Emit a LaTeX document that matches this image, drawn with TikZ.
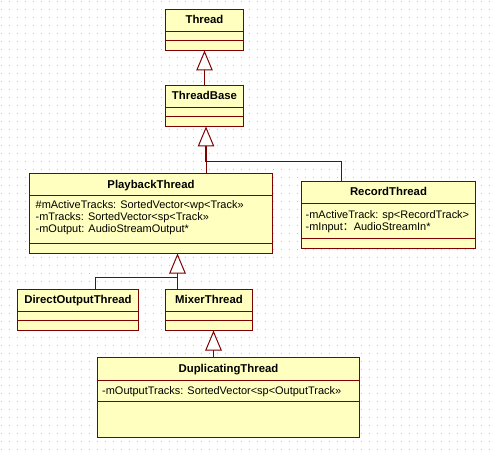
\documentclass[tikz,border=0pt]{standalone}
\usepackage{fontspec}
\setmainfont{Liberation Sans}
\newfontfamily\cjkfont{Noto Sans CJK SC}
\usetikzlibrary{arrows.meta}

\definecolor{umlred}{HTML}{800000}
\definecolor{umlfill}{HTML}{FFFFC0}
\definecolor{griddot}{HTML}{C4C4C4}

% horizontal rule between two compartments of a class box
\newcommand\umlsep[2]{\draw[cline] (#1.west |- 0,#2) -- (#1.east |- 0,#2);}

\begin{document}
\begin{tikzpicture}[
  x=1bp, y=-1bp,
  cls/.style={rectangle, draw=umlred, fill=umlfill, line width=1bp,
              inner sep=0pt, outer sep=0pt},
  cline/.style={draw=umlred, line width=1bp},
  title/.style={inner sep=0pt, anchor=base,
                font=\fontsize{11.4}{12}\selectfont\bfseries},
  attr/.style={inner sep=0pt, anchor=base west,
               font=\fontsize{11}{12}\selectfont},
  assoc/.style={draw=umlred, line width=1bp},
  gen/.style={assoc, -{Triangle[open, length=20bp, width=16.5bp, fill=white]}},
]
\useasboundingbox (0,0) rectangle (493,457);
\fill[white] (0,0) rectangle (493,457);

% dotted background grid
\foreach \k in {0,...,56}
  \draw[griddot, line width=1bp, dash pattern=on 1bp off 7bp]
    (1,1.5+8*\k) -- (493,1.5+8*\k);

% ---- class boxes ----
\node[cls, minimum width=78bp, minimum height=41bp] (Thread) at (204.5,30) {};
\umlsep{Thread}{31.5}\umlsep{Thread}{40.5}
\node[title] (tThread) at (Thread.center |- 0,24) {Thread};

\node[cls, minimum width=78bp, minimum height=41bp] (ThreadBase) at (204.5,106) {};
\umlsep{ThreadBase}{107.5}\umlsep{ThreadBase}{116.5}
\node[title] (tThreadBase) at (ThreadBase.center |- 0,99.5) {ThreadBase};

\node[cls, minimum width=243bp, minimum height=80bp] (PlaybackThread) at (151,213.5) {};
\umlsep{PlaybackThread}{195.5}\umlsep{PlaybackThread}{243.5}
\node[title] (tPlayback) at (PlaybackThread.center |- 0,188.5) {PlaybackThread};
\node[attr] (pa1) at (35.5,209) {\#mActiveTracks: SortedVector<wp<Track>>};
\node[attr] (pa2) at (35.5,220.7) {-mTracks: SortedVector<sp<Track>>};
\node[attr] (pa3) at (35.5,232.3) {-mOutput: AudioStreamOutput*};

\node[cls, minimum width=174bp, minimum height=67bp] (RecordThread) at (388.5,215) {};
\umlsep{RecordThread}{203.5}\umlsep{RecordThread}{238.5}
\node[title] (tRecord) at (RecordThread.center |- 0,196) {RecordThread};
\node[attr] (ra1) at (305.5,218.3) {-mActiveTrack: sp<RecordTrack>};
\node[attr] (ra2) at (305.5,230.7) {-mInput{\cjkfont ：}AudioStreamIn*};

\node[cls, minimum width=121bp, minimum height=41bp] (DirectOutputThread) at (78,310) {};
\umlsep{DirectOutputThread}{311.5}\umlsep{DirectOutputThread}{320.5}
\node[title] (tDirect) at (DirectOutputThread.center |- 0,303.5) {DirectOutputThread};

\node[cls, minimum width=87bp, minimum height=41bp] (MixerThread) at (209,310) {};
\umlsep{MixerThread}{311.5}\umlsep{MixerThread}{320.5}
\node[title] (tMixer) at (MixerThread.center |- 0,303.5) {MixerThread};

\node[cls, minimum width=262bp, minimum height=80bp] (DuplicatingThread) at (228.5,397.5) {};
\umlsep{DuplicatingThread}{380.5}\umlsep{DuplicatingThread}{401.5}
\node[title] (tDup) at (DuplicatingThread.center |- 0,372) {DuplicatingThread};
\node[attr] (da1) at (102,394) {-mOutputTracks: SortedVector<sp<OutputTrack>>};

% ---- generalisations ----
\draw[gen] (ThreadBase.north) -- (Thread.south);

% PlaybackThread and RecordThread share one triangle under ThreadBase
\coordinate (tbTip)  at ([xshift=1.5bp]ThreadBase.south);
\coordinate (tbBase) at ([xshift=-1bp]tbTip |- 0,146.5);
\coordinate (tbJoin) at ([xshift=-1bp]tbTip |- 0,161.5);
\draw[gen] (PlaybackThread.north -| tbTip) -- (tbTip);
\draw[assoc] ([xshift=40bp]RecordThread.north west) |- (tbJoin) -- (tbBase);

% DirectOutputThread and MixerThread share one triangle under PlaybackThread
\coordinate (pbTip)  at ([xshift=26.5bp]PlaybackThread.south);
\coordinate (pbJoin) at (pbTip |- 0,277.5);
\draw[gen] (MixerThread.north -| pbTip) -- (pbTip);
\draw[assoc] ([xshift=78bp]DirectOutputThread.north west) |- (pbJoin);

% DuplicatingThread derives from MixerThread
\coordinate (mxTip) at ([xshift=4.5bp]MixerThread.south);
\draw[gen] (DuplicatingThread.north -| mxTip) -- (mxTip);
\end{tikzpicture}
\end{document}
